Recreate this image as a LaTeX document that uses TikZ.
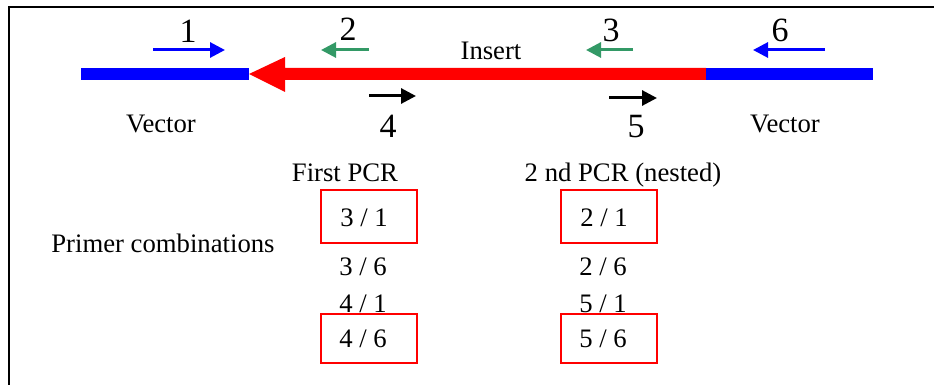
\documentclass[tikz,border=0pt]{standalone}
\usepackage{fontspec}
\setmainfont{Liberation Serif}
\usetikzlibrary{arrows.meta}
\definecolor{vblue}{RGB}{0,0,255}
\definecolor{ired}{RGB}{255,0,0}
\definecolor{pgreen}{RGB}{51,153,102}
\begin{document}
\begin{tikzpicture}[x=1pt,y=-1pt,
  txt/.style={font=\fontsize{26.7}{30}\selectfont, inner sep=0pt, anchor=base},
  num/.style={font=\fontsize{34}{38}\selectfont, inner sep=0pt, anchor=base},
  primer/.style={line width=3pt, -{Triangle[length=15pt,width=15pt]}},
  combo/.style={draw=ired, line width=1.3pt, minimum width=96pt, inner sep=0pt}
]
\useasboundingbox (0,0) rectangle (934,385);
\draw[line width=1.5pt] (9,385) -- (9,7) -- (934,7);

% DNA construct
\fill[vblue] (81,68) rectangle (249,80);
\fill[ired] (249,74) -- (285,57) -- (285,68) -- (706,68) -- (706,80) -- (285,80) -- (285,92) -- cycle;
\fill[vblue] (706,68) rectangle (873,80);

% primers
\draw[primer, vblue] (153,50) -- (225,50);
\draw[primer, pgreen] (369,50) -- (321,50);
\draw[primer, pgreen] (633,50) -- (586,50);
\draw[primer, vblue] (825,50) -- (753,50);
\draw[primer, black] (369,96) -- (416,96);
\draw[primer, black] (609,98) -- (657,98);

% primer labels
\node[num] (n1) at (188,43) {1};
\node[num] (n2) at (348,41) {2};
\node[num] (n3) at (611,42) {3};
\node[num] (n6) at (780,42) {6};
\node[num] (n4) at (388,138) {4};
\node[num] (n5) at (636,138) {5};

\node[txt] (insert) at (491,60) {Insert};
\node[txt] (vecl) at (161,133) {Vector};
\node[txt] (vecr) at (785,133) {Vector};

\node[txt] (first) at (345,181) {First PCR};
\node[txt] (second) at (623,181) {2 nd PCR (nested)};
\node[txt] (primcomb) at (163,252) {Primer combinations};

% combination boxes
\node[combo, minimum height=53pt] (b31) at (369,216.5) {};
\node[combo, minimum height=49pt] (b46) at (369,338.5) {};
\node[combo, minimum height=53pt] (b21) at (609,216.5) {};
\node[combo, minimum height=49pt] (b56) at (609,338.5) {};

\node[txt] (t31) at (364,226) {3 / 1};
\node[txt] (t36) at (363,275) {3 / 6};
\node[txt] (t41) at (363,312) {4 / 1};
\node[txt] (t46) at (363,347) {4 / 6};
\node[txt] (t21) at (604,226) {2 / 1};
\node[txt] (t26) at (603,275) {2 / 6};
\node[txt] (t51) at (603,312) {5 / 1};
\node[txt] (t56) at (603,347) {5 / 6};
\end{tikzpicture}
\end{document}
